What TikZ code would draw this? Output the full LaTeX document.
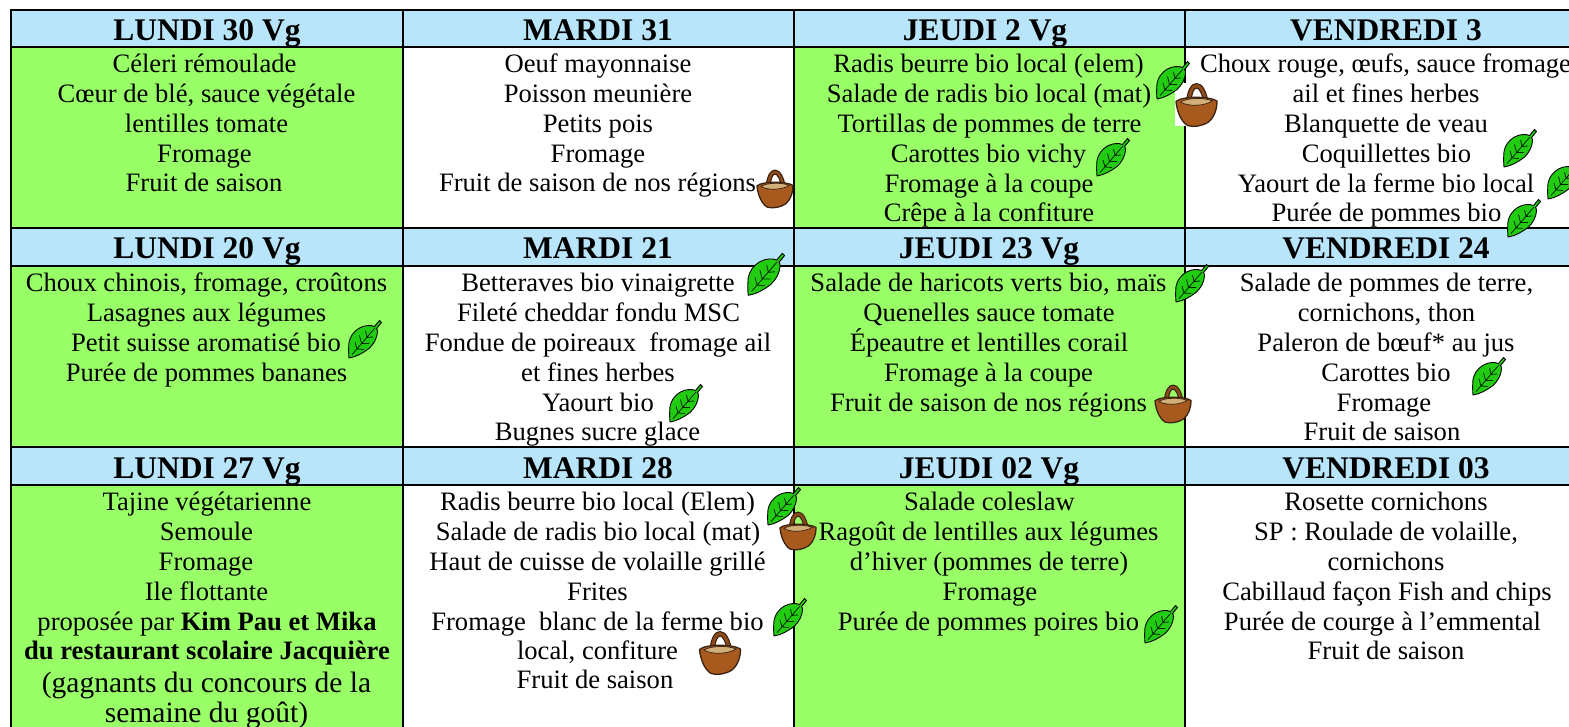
\documentclass[tikz,border=0pt]{standalone}
\usepackage{fontspec}
\setmainfont{Liberation Serif}
\definecolor{headblue}{HTML}{B9E5FB}
\definecolor{vegegreen}{HTML}{99FF66}
\definecolor{leafgreen}{HTML}{22CC11}
\definecolor{basketbrown}{HTML}{A85A1E}
\definecolor{basketin}{HTML}{D2AE78}
\definecolor{basketline}{HTML}{3A2210}
\newcounter{tln}
\newcommand{\tl}[3]{\stepcounter{tln}\node[menuline,yshift=-0.8pt] (t\arabic{tln}) at (#1,#2) {#3};}
\newcommand{\hd}[3]{\stepcounter{tln}\node[headline] (t\arabic{tln}) at (#1,#2) {#3};}
\tikzset{
  menuline/.style={anchor=base,inner sep=0pt,font=\fontsize{26.6}{26.6}\selectfont},
  biglinetext/.style={anchor=base,inner sep=0pt,font=\fontsize{29.5}{29.5}\selectfont},
  headline/.style={anchor=base,inner sep=0pt,font=\fontsize{31.5}{31.5}\selectfont\bfseries},
  grid line/.style={draw=black,line width=2pt},
  leaf/.pic={
    \draw[draw=black,line width=.9pt,fill=leafgreen,line join=round]
      (15.5,-18.5) -- (10.5,-12.5) .. controls (7,-14) and (1,-14) .. (-4.5,-11)
      .. controls (-11,-7) and (-14,-2) .. (-15,3.5)
      .. controls (-15.5,9) and (-15.5,14) .. (-15,19)
      .. controls (-8,18) and (-1,14) .. (5,9.5)
      .. controls (10,5) and (13,-1) .. (13.5,-7)
      .. controls (13.5,-9) and (13,-10) .. (12.5,-10.5) -- (17.5,-16.5) -- cycle;
    \draw[black!85!green,line width=.8pt] (-12,15.5) .. controls (-6,9) and (3,-2) .. (11,-11)
      (-7,10) -- (-9,3) (-7,10) -- (0,10.5) (-2.5,4.5) -- (-4.5,-3.5) (-2.5,4.5) -- (5,4.5) (3,-1.5) -- (1.5,-8) (3,-1.5) -- (9,-2);
  },
  basket/.pic={
    \draw[basketline,line width=1.1pt,fill=basketbrown!85!black]
      (-10,-3) .. controls (-9,-15) and (-5,-21.5) .. (0,-21.5)
      .. controls (6,-21.5) and (10,-13) .. (12,-1) -- (7.5,-1)
      .. controls (6,-11) and (3,-17) .. (0,-17) .. controls (-3,-17) and (-5,-11) .. (-5.5,-3) -- cycle;
    \draw[basketline,line width=1.3pt,fill=basketbrown,line join=round]
      (-20.5,-3.5) .. controls (-15,-9) and (13,-9) .. (20.5,-4)
      .. controls (20.5,4) and (18,12) .. (12,17)
      .. controls (6,21) and (-3,22.5) .. (-9,20.5)
      .. controls (-16,16) and (-19.5,6) .. (-20.5,-3.5) -- cycle;
    \draw[basketline,line width=.7pt,fill=basketin]
      (-16,-3) .. controls (-9,-7.5) and (9,-7.5) .. (16,-4)
      .. controls (8,1) and (-8,2) .. (-16,-3) -- cycle;
  }
}
\begin{document}
\begin{tikzpicture}[x=1pt,y=-1pt]
\useasboundingbox (0,0) rectangle (1569,727);
\fill[white] (0,0) rectangle (1569,727);
% header bands
\fill[headblue] (11,10) rectangle (1569,47);
\fill[headblue] (11,228) rectangle (1569,266);
\fill[headblue] (11,447) rectangle (1569,485);
% vegetarian cells
\fill[vegegreen] (11,47) rectangle (402,228);
\fill[vegegreen] (793,47) rectangle (1184,228);
\fill[vegegreen] (11,266) rectangle (402,447);
\fill[vegegreen] (793,266) rectangle (1184,447);
\fill[vegegreen] (11,485) rectangle (402,727);
\fill[vegegreen] (793,485) rectangle (1184,727);
% grid
\foreach \yy in {10,47,228,266,447,485} \draw[grid line] (10,\yy) -- (1569,\yy);
\foreach \xx in {11,402.5,793.5,1184.5} \draw[grid line] (\xx,9) -- (\xx,727);
% headers
\hd{207}{41}{LUNDI 30 Vg}
\hd{598}{41}{MARDI 31}
\hd{985}{41}{JEUDI 2 Vg}
\hd{1386}{41}{VENDREDI 3}
\hd{207}{259}{LUNDI 20 Vg}
\hd{598}{259}{MARDI 21}
\hd{989}{259}{JEUDI 23 Vg}
\hd{1386}{259}{VENDREDI 24}
\hd{207}{478}{LUNDI 27 Vg}
\hd{598}{478}{MARDI 28}
\hd{989}{478}{JEUDI 02 Vg}
\hd{1386}{478}{VENDREDI 03}
% week 1
\tl{204.5}{72}{Céleri rémoulade}
\tl{206.5}{102}{Cœur de blé, sauce végétale}
\tl{206.5}{132}{lentilles tomate}
\tl{204.5}{162}{Fromage}
\tl{204}{191}{Fruit de saison}
\tl{598}{72}{Oeuf mayonnaise}
\tl{598}{102}{Poisson meunière}
\tl{598}{132}{Petits pois}
\tl{598}{162}{Fromage}
\tl{597.5}{191}{Fruit de saison de nos régions}
\tl{988.5}{72}{Radis beurre bio local (elem)}
\tl{989}{102}{Salade de radis bio local (mat)}
\tl{989.5}{132}{Tortillas de pommes de terre}
\tl{988.5}{162}{Carottes bio vichy}
\tl{989}{192}{Fromage à la coupe}
\tl{989}{221}{Crêpe à la confiture}
\tl{1385.5}{72}{Choux rouge, œufs, sauce fromage}
\tl{1386}{102}{ail et fines herbes}
\tl{1386}{132}{Blanquette de veau}
\tl{1386.5}{162}{Coquillettes bio}
\tl{1386}{192}{Yaourt de la ferme bio local}
\tl{1386.5}{221}{Purée de pommes bio}
% week 2
\tl{206.5}{291}{Choux chinois, fromage, croûtons}
\tl{206.5}{321}{Lasagnes aux légumes}
\tl{206}{351}{Petit suisse aromatisé bio}
\tl{206.5}{381}{Purée de pommes bananes}
\tl{598}{291}{Betteraves bio vinaigrette}
\tl{598.5}{321}{Fileté cheddar fondu MSC}
\tl{598}{351}{Fondue de poireaux~ fromage ail}
\tl{598}{381}{et fines herbes}
\tl{598}{411}{Yaourt bio}
\tl{597.5}{440}{Bugnes sucre glace}
\tl{988.5}{291}{Salade de haricots verts bio, maïs}
\tl{989}{321}{Quenelles sauce tomate}
\tl{989}{351}{Épeautre et lentilles corail}
\tl{988.5}{381}{Fromage à la coupe}
\tl{988.5}{411}{Fruit de saison de nos régions}
\tl{1386.5}{291}{Salade de pommes de terre,}
\tl{1386.5}{321}{cornichons, thon}
\tl{1386}{351}{Paleron de bœuf* au jus}
\tl{1386}{381}{Carottes bio}
\tl{1384}{411}{Fromage}
\tl{1382}{440}{Fruit de saison}
% week 3
\tl{207}{510}{Tajine végétarienne}
\tl{206.5}{540}{Semoule}
\tl{206}{570}{Fromage}
\tl{206.5}{600}{Ile flottante}
\tl{207}{630}{proposée par \textbf{Kim Pau et Mika}}
\tl{207}{659}{\textbf{du restaurant scolaire Jacquière}}
\node[biglinetext] (g1) at (206.5,692) {(gagnants du concours de la};
\node[biglinetext] (g2) at (206.5,722.5) {semaine du goût)};
\tl{597.5}{510}{Radis beurre bio local (Elem)}
\tl{598}{540}{Salade de radis bio local (mat)}
\tl{597.5}{570}{Haut de cuisse de volaille grillé}
\tl{597.5}{600}{Frites}
\tl{597.5}{630}{Fromage~ blanc de la ferme bio}
\tl{597.5}{659}{local, confiture}
\tl{595}{688}{Fruit de saison}
\tl{989.5}{510}{Salade coleslaw}
\tl{988.5}{540}{Ragoût de lentilles aux légumes}
\tl{989}{570}{d’hiver (pommes de terre)}
\tl{990}{600}{Fromage}
\tl{988.5}{630}{Purée de pommes poires bio}
\tl{1386}{510}{Rosette cornichons}
\tl{1386}{540}{SP : Roulade de volaille,}
\tl{1386}{570}{cornichons}
\tl{1387}{600}{Cabillaud façon Fish and chips}
\tl{1382.5}{630}{Purée de courge à l’emmental}
\tl{1386}{659}{Fruit de saison}
% basket with white image background
\fill[white] (1175,83) rectangle (1218,126);
% leaves
\foreach \lx/\ly in {1172/80,1112/157,1519/148,1563/180,1523/218,364/339,1191/283,685/403,1488/376,783/506,789/617,1160/624}
  \pic at (\lx,\ly) {leaf};
\pic[scale=1.12] at (765,274) {leaf};
% baskets
\pic at (1196.5,105) {basket};
\pic[scale=.88] at (775,189) {basket};
\pic[scale=.88] at (1173,404) {basket};
\pic[scale=.88] at (798,531) {basket};
\pic at (720,653) {basket};
\end{tikzpicture}
\end{document}
